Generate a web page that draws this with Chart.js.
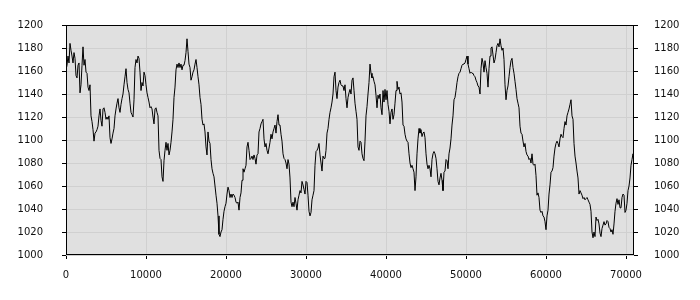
<!DOCTYPE html>
<html>
<head>
<meta charset="utf-8">
<script src="https://cdn.jsdelivr.net/npm/chart.js@4"></script>
<style>
html, body { margin: 0; padding: 0; background: #fff; }
</style>
</head>
<body>
<canvas id="myChart" width="700" height="300"></canvas>
<script>
// sample spacing along x
const STEP = 125;

// series, one value per sample
const level = [
  1161,1165,1173,1167,1184,1178,1173,1167,1176,1171,
  1156,1154,1165,1167,1141,1148,1165,1181,1165,1170,
  1159,1158,1146,1143,1148,1121,1116,1109,1099,1106,
  1107,1109,1112,1121,1127,1117,1112,1127,1128,1124,
  1118,1120,1118,1121,1102,1097,1101,1106,1110,1121,
  1127,1132,1136,1128,1124,1131,1136,1140,1148,1155,
  1162,1150,1144,1141,1132,1124,1122,1120,1135,1163,
  1170,1167,1173,1171,1159,1143,1150,1147,1159,1156,
  1148,1141,1137,1133,1128,1129,1127,1120,1114,1127,
  1128,1124,1121,1091,1084,1083,1068,1064,1082,
  1091,1098,1091,1097,1087,1091,1098,1107,1118,1137,
  1146,1161,1166,1163,1167,1163,1166,1161,1165,1165,
  1169,1176,1188,1177,1166,1163,1152,1155,1159,1161,
  1166,1170,1163,1155,1148,1137,1131,1118,1113,1114,
  1107,1094,1087,1107,1099,1097,1083,1075,1071,1068,
  1060,1052,1045,1034,1018,1016,1020,1022,1031,1038,
  1042,1045,1053,1059,1056,1050,1053,1050,1053,1052,
  1050,1046,1045,1046,1039,1050,1054,1065,1075,1072,
  1075,1078,1094,1098,1091,1083,1084,1086,1083,1087,
  1084,1079,1087,1088,1107,1110,1114,1116,1118,1101,
  1094,
  1097,1091,1088,1093,1098,1105,1101,1107,1110,1113,
  1106,1116,1122,1113,1113,1105,1099,1088,1084,1083,
  1080,1075,1083,1079,1067,1046,1042,1046,1042,1050,
  1045,1039,1048,1052,1056,1054,1064,1061,1057,1053,
  1064,1063,1052,1038,1034,1037,1048,1052,1056,1078,
  1090,1091,1093,1097,1087,1080,1073,1086,1084,1084,
  1091,1106,1110,1118,1124,1128,1133,1140,1155,1159,
  1143,1136,1146,1150,1152,1148,1147,1147,1143,1148,
  1136,1128,1137,1141,1144,1140,1152,1154,1143,1132,
  1125,1118,1094,1091,1099,1098,1088,1084,1082,1099,
  1121,1129,1140,1150,1166,
  1158,1154,1155,1151,1148,1139,1128,1139,1136,1140,
  1128,1122,1143,1133,1144,1135,1143,1131,1125,1114,
  1124,1127,1118,1122,1132,1143,1151,1144,1146,1140,
  1141,1133,1113,1112,1105,1101,1099,1098,1088,1080,
  1076,1078,1075,1072,1056,1068,1088,1101,1110,1106,
  1109,1103,1106,1107,1102,1088,1079,1075,1078,1075,
  1068,1083,1088,1090,1088,1084,1075,1064,1061,1067,
  1071,1065,1056,1072,1073,1083,1082,1075,1088,1093,
  1101,1113,1121,1135,1137,1143,1150,1155,1158,1159,
  1162,1165,1166,1166,1167,1170,1173,1166,1162,1158,
  1159,1158,1158,1156,1155,
  1152,1150,1147,1146,1140,1162,1171,1167,1159,1169,
  1163,1158,1146,1162,1173,1180,1181,1174,1167,1170,
  1176,1182,1184,1181,1188,1182,1178,1180,1170,1148,
  1135,1143,1147,1155,1163,1169,1171,1163,1158,1151,
  1144,1136,1132,1128,1112,1106,1105,1099,1094,1097,
  1090,1087,1086,1083,1084,1080,1088,1079,1078,1079,
  1069,1052,1054,1050,1039,1037,1038,1034,1033,1029,
  1022,1034,1039,1053,1061,1072,1073,1076,1086,1093,
  1097,1099,1097,1094,1101,1105,1103,1102,1110,1116,
  1113,1121,1124,1127,1131,1135,1121,1118,1097,1086,
  1080,1073,1067,1053,
  1056,1054,1052,1049,1050,1048,1049,1050,1048,1046,
  1044,1038,1020,1015,1020,1016,1033,1030,1031,1027,
  1019,1016,1023,1026,1029,1026,1027,1030,1029,1024,
  1023,1020,1022,1018,1027,1038,1045,1049,1044,1048,
  1041,1041,1050,1053,1052,1037,1039,1045,1056,1060,
  1067,1078,1083,1088,1081
];

const xTicks = [0, 10000, 20000, 30000, 40000, 50000, 60000, 70000];
const yTicks = [1000, 1020, 1040, 1060, 1080, 1100, 1120, 1140, 1160, 1180, 1200];

const points = level.map((v, i) => ({ x: i * STEP, y: v }));

// gray plot area + black frame
const plotFrame = {
  id: 'plotFrame',
  beforeDraw(chart) {
    const a = chart.chartArea, c = chart.ctx;
    c.save();
    c.fillStyle = '#e0e0e0';
    c.fillRect(a.left, a.top, a.right - a.left, a.bottom - a.top);
    c.restore();
  },
  afterDraw(chart) {
    const a = chart.chartArea, c = chart.ctx;
    c.save();
    c.strokeStyle = '#000';
    c.lineWidth = 1;
    c.strokeRect(Math.round(a.left) + 0.5, Math.round(a.top) + 0.5,
      Math.round(a.right - a.left) - 1, Math.round(a.bottom - a.top) - 1);
    c.restore();
  }
};

Chart.defaults.font.family = 'DejaVu Sans';
Chart.defaults.font.size = 10;
Chart.defaults.color = '#111';

function yAxis(pos, pad, grid) {
  return {
    type: 'linear',
    position: pos,
    min: 1000,
    max: 1200,
    afterFit: s => { s.width = 66; },
    afterBuildTicks: s => { s.ticks = yTicks.map(v => ({ value: v })); },
    ticks: { padding: pad, callback: v => String(v) },
    grid: { color: '#d0d0d0', drawOnChartArea: grid, tickLength: 4, tickColor: '#000' },
    border: { display: false }
  };
}

let ctx = document.getElementById('myChart').getContext('2d');
let chart = new Chart(ctx, {
  type: 'line',
  data: {
    datasets: [{
      data: points,
      borderColor: '#000',
      borderWidth: 1,
      pointRadius: 0,
      tension: 0,
      fill: false
    }]
  },
  options: {
    responsive: false,
    animation: false,
    layout: { padding: { top: 10, left: 0, right: 0, bottom: 0 } },
    plugins: { legend: { display: false }, tooltip: { enabled: false } },
    scales: {
      x: {
        type: 'linear',
        min: 0,
        max: 71000,
        afterFit: s => { s.height = 45; },
        afterBuildTicks: s => { s.ticks = xTicks.map(v => ({ value: v })); },
        ticks: { padding: 10, maxRotation: 0, autoSkip: false, callback: v => String(v) },
        grid: { color: '#d0d0d0', tickLength: 4, tickColor: '#000' },
        border: { display: false }
      },
      y: yAxis('left', 19, true),
      y2: yAxis('right', 16, false)
    }
  },
  plugins: [plotFrame]
});
</script>
</body>
</html>
